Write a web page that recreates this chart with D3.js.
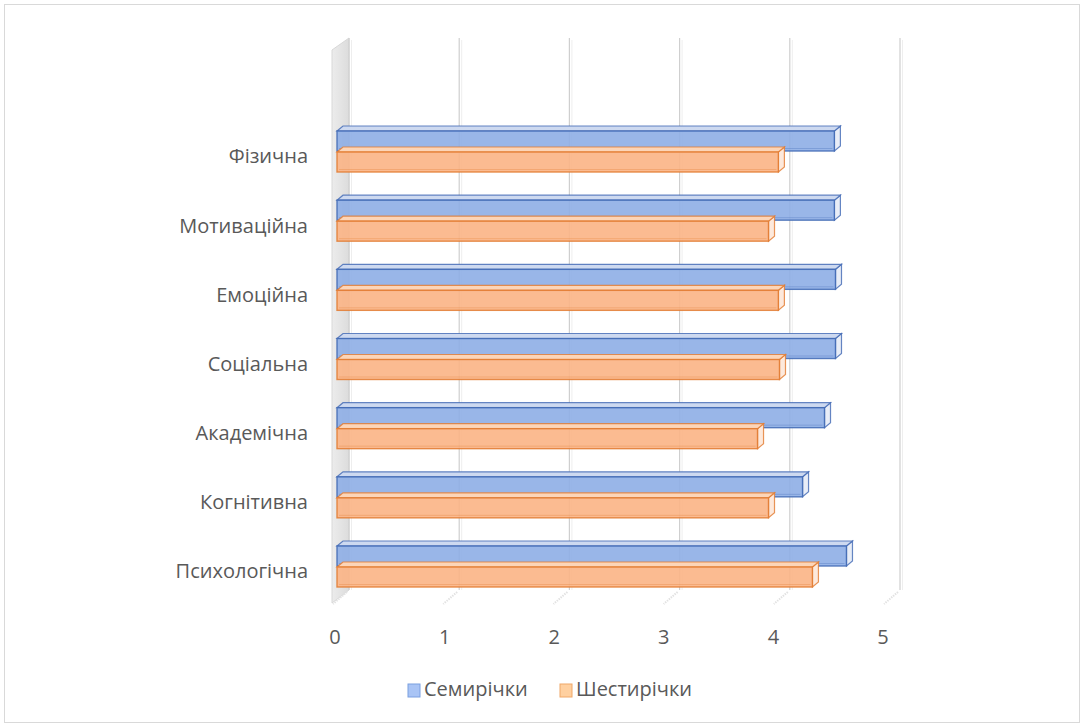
<!DOCTYPE html>
<html><head><meta charset="utf-8">
<script src="https://cdn.jsdelivr.net/npm/d3@7/dist/d3.min.js"></script>
<style>body{margin:0;background:#fff;}svg{display:block;font-family:"Open Sans","Noto Sans",sans-serif;}</style>
</head><body>
<script>
const categories = ["Фізична","Мотиваційна","Емоційна","Соціальна","Академічна","Когнітивна","Психологічна"];
const seven = [4.53, 4.53, 4.54, 4.54, 4.44, 4.24, 4.64];
const six = [4.02, 3.93, 4.02, 4.03, 3.83, 3.93, 4.33];
const seriesNames = ["Семирічки","Шестирічки"];
const ticks = [0,1,2,3,4,5];

const W=1084,H=727;
const svg=d3.select("body").append("svg").attr("width",W).attr("height",H);
svg.append("rect").attr("x",4.5).attr("y",4.5).attr("width",1075).attr("height",718).attr("fill","#fff").attr("stroke","#d9d9d9");

const xFront=d3.scaleLinear().domain([0,5]).range([337,886]);
const xBack=d3.scaleLinear().domain([0,5]).range([349,900]);
const xLab=d3.scaleLinear().domain([0,5]).range([335,883]);
const yC=d3.scalePoint().domain(categories).range([152,567]);

const defs=svg.append("defs");
const wg=defs.append("linearGradient").attr("id","wall").attr("x1","0").attr("x2","1").attr("y1","0").attr("y2","0");
wg.append("stop").attr("offset","0").attr("stop-color","#ececec");
wg.append("stop").attr("offset","1").attr("stop-color","#dcdcdc");

// side wall
svg.append("path").attr("d","M332,50 L349,38 L349,590 L332,603 Z").attr("fill","url(#wall)").attr("stroke","#d8d8d8");
// gridlines
ticks.forEach(t=>{
  const xb=xBack(t);
  svg.append("line").attr("x1",xb).attr("x2",xb).attr("y1",38).attr("y2",590).attr("stroke","#cfcfcf").attr("stroke-width",1.2);
  svg.append("line").attr("x1",xb+2.5).attr("x2",xb+2.5).attr("y1",40).attr("y2",590).attr("stroke","#eeeeee").attr("stroke-width",1);
  svg.append("line").attr("x1",xb-2).attr("x2",xb-16).attr("y1",592).attr("y2",604).attr("stroke","#e2e2e2").attr("stroke-width",2).attr("stroke-dasharray","1.5,1");
});

const dx=6, dy=-5, h=20;
function bar(g,x0,x1,y,fillF,fillT,fillR,stroke){
  g.append("path").attr("d",`M${x1},${y} L${x1+dx},${y+dy} L${x1+dx},${y+h+dy} L${x1},${y+h} Z`)
    .attr("fill",fillR).attr("stroke",stroke).attr("stroke-width",1.2).attr("stroke-opacity",0.8);
  g.append("path").attr("d",`M${x0},${y} L${x0+dx},${y+dy} L${x1+dx},${y+dy} L${x1},${y} Z`)
    .attr("fill",fillT).attr("stroke",stroke).attr("stroke-width",1.2).attr("stroke-opacity",0.8);
  g.append("rect").attr("x",x0).attr("y",y).attr("width",x1-x0).attr("height",h)
    .attr("fill",fillF).attr("fill-opacity",0.9).attr("stroke",stroke).attr("stroke-width",1.4).attr("stroke-opacity",0.85);
  g.append("line").attr("x1",x0+2).attr("x2",x1-2).attr("y1",y+h-2.5).attr("y2",y+h-2.5).attr("stroke",stroke).attr("stroke-opacity",0.3);
}
const g=svg.append("g");
categories.forEach((c,i)=>{
  const cy=yC(c);
  bar(g,xFront(0),xFront(seven[i]),cy-h-1,"#8eaee6","#cdd9f0","#e8edf7","#4068b4");
  bar(g,xFront(0),xFront(six[i]),cy,"#fbb485","#fcd5b8","#fde9dc","#e27a30");
});

// category labels
svg.append("g").selectAll("text").data(categories).join("text")
  .attr("x",308).attr("y",d=>yC(d)+6).attr("text-anchor","end").attr("dominant-baseline","middle")
  .attr("font-size",20).attr("fill","#595959").text(d=>d);
// tick labels
svg.append("g").selectAll("text").data(ticks).join("text")
  .attr("x",d=>xLab(d)).attr("y",639).attr("text-anchor","middle").attr("dominant-baseline","middle")
  .attr("font-size",20).attr("fill","#595959").text(d=>d);

// legend
const leg=[{x:408,c:"#a9c4f5",s:"#7b9fe0"},{x:560,c:"#ffd0a0",s:"#f0a868"}];
leg.forEach((l,i)=>{
  svg.append("rect").attr("x",l.x).attr("y",684).attr("width",12).attr("height",13).attr("fill",l.c).attr("stroke",l.s);
  svg.append("text").attr("x",l.x+16).attr("y",691).attr("dominant-baseline","middle").attr("font-size",20).attr("fill","#595959").text(seriesNames[i]);
});
</script></body></html>
